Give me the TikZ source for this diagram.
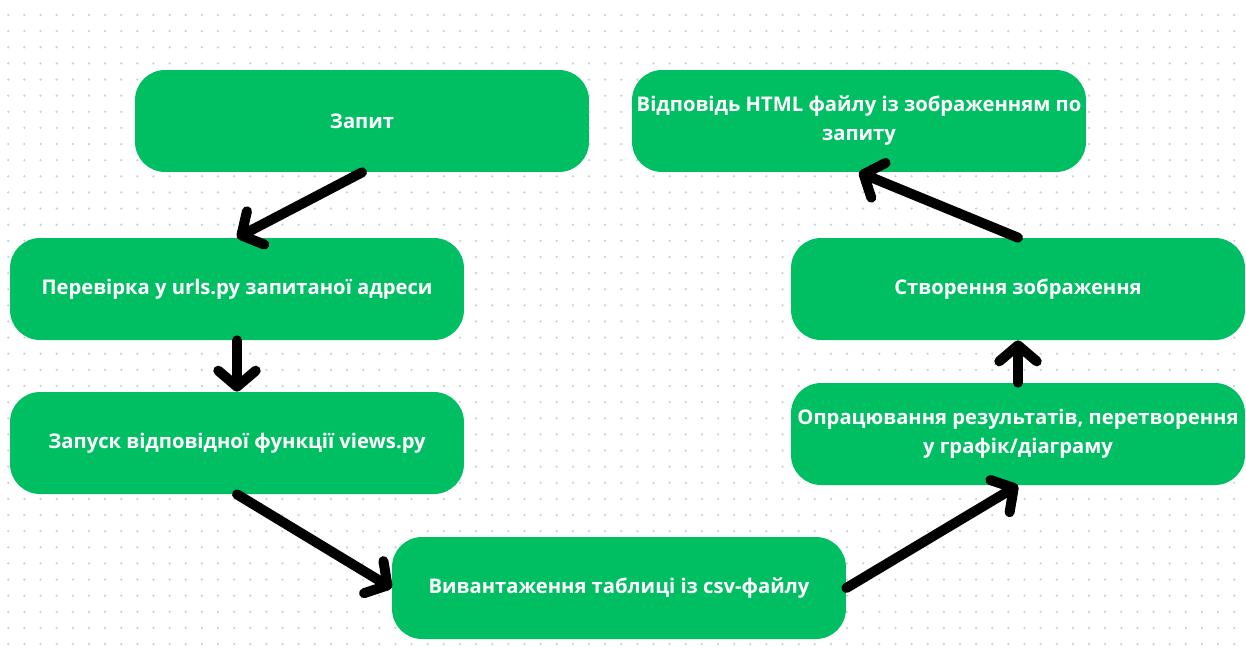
\documentclass[tikz,border=0pt]{standalone}
\usepackage{fontspec}
\setmainfont{Open Sans}
\usepackage{tikz}
\usetikzlibrary{arrows.meta}
\definecolor{zelenyi}{RGB}{0,191,99}
\definecolor{krapka}{RGB}{205,205,220}
\tikzset{
    krok/.style={fill=zelenyi, rounded corners=0.6cm, minimum width=9.08cm,
        minimum height=2.04cm, text=white, font=\bfseries\fontsize{11.5}{16.5}\selectfont,
        align=center, inner sep=0pt},
    strilka/.style={line width=0.2cm, line cap=round,
        -{Straight Barb[length=0.32cm, width=0.75cm, line cap=round, line join=round]}},
}
\begin{document}
\begin{tikzpicture}[x=0.02cm, y=-0.02cm]
    \useasboundingbox (0,0) rectangle (1246,657);
    % dotted background
    \foreach \i in {0,...,77} {
        \foreach \j in {0,...,40} {
            \fill[krapka] (8.3 + 16.13*\i, 15 + 16.13*\j) circle (0.025cm);
        }
    }
    \node[krok] (zapyt) at (362, 121) {Запит};
    \node[krok] (vidpovid) at (859, 121) {Відповідь HTML файлу із зображенням по\\запиту};
    \node[krok] (perevirka) at (237, 289) {Перевірка у urls.py запитаної адреси};
    \node[krok] (stvorennia) at (1018, 289) {Створення зображення};
    \node[krok] (zapusk) at (237, 443) {Запуск відповідної функції views.py};
    \node[krok] (opratsiuvannia) at (1018, 434) {Опрацювання результатів, перетворення\\у графік/діаграму};
    \node[krok] (vyvantazhennia) at (619, 588) {Вивантаження таблиці із csv-файлу};

    \draw[strilka] (zapyt.south) -- (perevirka.north);
    \draw[strilka] (perevirka.south) -- (zapusk.north);
    \draw[strilka] (zapusk.south) -- (vyvantazhennia.west);
    \draw[strilka] (vyvantazhennia.east) -- (opratsiuvannia.south);
    \draw[strilka] (opratsiuvannia.north) -- (stvorennia.south);
    \draw[strilka] (stvorennia.north) -- (vidpovid.south);
\end{tikzpicture}
\end{document}
